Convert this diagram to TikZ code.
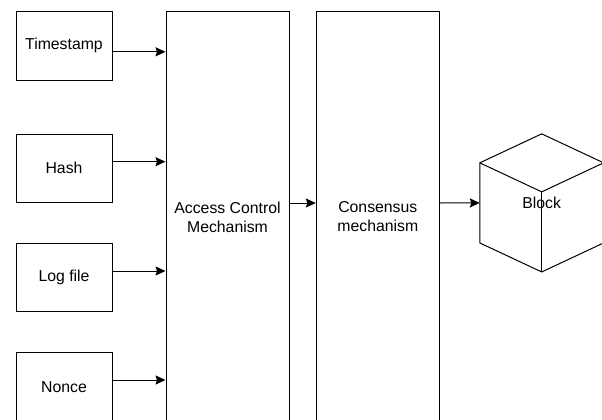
\documentclass[tikz,border=0pt]{standalone}
\usepackage{fontspec}
\setmainfont{Liberation Sans}
\usepackage{tikz}
\usetikzlibrary{
  positioning,
  arrows.meta
}
\tikzstyle{inbox}=[draw, line width=1pt, minimum width=96pt, minimum height=68.5pt, inner sep=0pt]
\tikzstyle{stage}=[draw, line width=1pt, minimum width=123pt, minimum height=410pt, inner sep=0pt, align=center]
\tikzstyle{flow}=[-{Stealth[length=10pt, width=9pt, inset=1.5pt]}, line width=1pt]
\tikzstyle{cube}=[line width=1pt, line join=round]

\begin{document}
\begin{tikzpicture}[x=1pt, y=-1pt, font=\fontsize{15.8}{19}\selectfont]
      \def\depth{29pt}; % 立方体の斜めの辺の高さ

      \useasboundingbox (0,0) rectangle (602,420);
      \clip (0,0) rectangle (602,420);

      % 入力データ
      \node[inbox] (ts) at (64,45.8) {Timestamp};
      \node[inbox] (hash) at (64,168.3) {Hash};
      \node[inbox] (log) at (64,277.5) {Log file};
      \node[inbox] (nonce) at (64,387) {Nonce};

      % 処理の段
      \node[stage] (acm) at (227.5,217) {Access Control\\Mechanism};
      \node[stage] (cm) at (377.8,217) {Consensus\\mechanism};

      % ブロック
      \node[minimum width=123.4pt, minimum height=137.7pt, inner sep=0pt] (blk) at (541.7,202.9) {Block};

      % 立方体の輪郭
      \draw[cube] (blk.north) -- ([yshift=-\depth]blk.north west) -- ([yshift=\depth]blk.south west)
        -- (blk.south) -- ([yshift=\depth]blk.south east) -- ([yshift=-\depth]blk.north east) -- cycle;
      % 手前の辺
      \coordinate (front) at ([yshift=-2*\depth]blk.north);
      \draw[cube] ([yshift=-\depth]blk.north west) -- (front) -- ([yshift=-\depth]blk.north east);
      \draw[cube] (front) -- (blk.south);

      % 入力からの矢印
      \foreach \src/\dy in {ts/-6pt, hash/6.6pt, log/6.5pt, nonce/7pt} {
        \coordinate (\src-out) at ([yshift=\dy]\src.east);
        \draw[flow] (\src-out) -- (\src-out -| acm.west);
      }

      % 段の間の矢印
      \coordinate (acm-out) at ([yshift=14pt]acm.east);
      \draw[flow] (acm-out) -- (acm-out -| cm.west);
      \draw[flow] ([yshift=14pt]cm.east) -- (blk.west);
    \end{tikzpicture}
\end{document}
